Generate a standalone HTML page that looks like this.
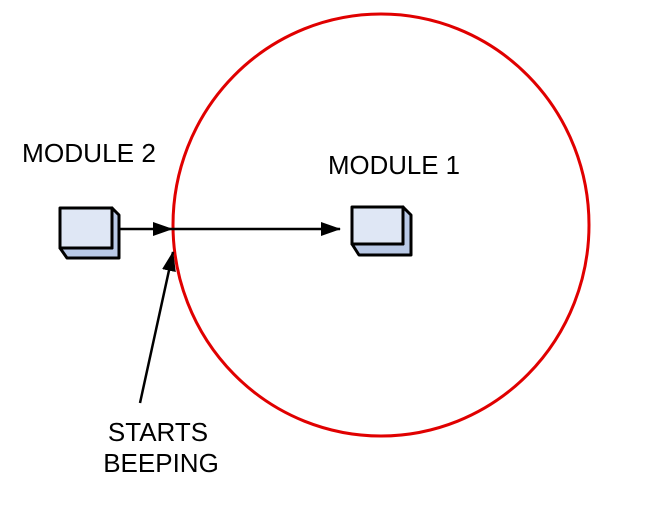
<!DOCTYPE html>
<html><head><style>body{margin:0;background:#fff}svg{display:block}</style></head><body>
<svg width="652" height="506" viewBox="0 0 652 506" xmlns="http://www.w3.org/2000/svg" font-family="Liberation Sans, Arial, sans-serif">
<defs><marker id="b" markerWidth="20" markerHeight="14" refX="19" refY="7" orient="auto" markerUnits="userSpaceOnUse"><path d="M0,0 L20,7 L0,14 Z" fill="#000"/></marker></defs>
<ellipse cx="381" cy="225" rx="208" ry="211" fill="none" stroke="#e00000" stroke-width="3"/>
<g stroke="#000" stroke-width="3" stroke-linejoin="round">
<path d="M60,248 L67,258 L119,258 L119,215 L112,208 L112,248 Z" fill="#b9c9e6"/>
<rect x="60" y="208" width="52" height="40" fill="#dfe7f5"/>
<path d="M352,244 L359,255 L411,255 L411,215 L403,207 L403,244 Z" fill="#b9c9e6"/>
<rect x="352" y="207" width="51" height="37" fill="#dfe7f5"/>
</g>
<g stroke="#000" stroke-width="2.5" fill="none">
<line x1="119" y1="229" x2="172" y2="229" marker-end="url(#b)"/>
<line x1="172" y1="229" x2="340" y2="229" marker-end="url(#b)"/>
<line x1="140" y1="403" x2="173" y2="252" marker-end="url(#b)"/>
</g>
<g font-size="26" fill="#000">
<text x="22" y="162" textLength="134" lengthAdjust="spacingAndGlyphs">MODULE 2</text>
<text x="328" y="174" textLength="132" lengthAdjust="spacingAndGlyphs">MODULE 1</text>
<text x="158" y="441" text-anchor="middle">STARTS</text>
<text x="161" y="472" text-anchor="middle">BEEPING</text>
</g>
</svg>
</body></html>
